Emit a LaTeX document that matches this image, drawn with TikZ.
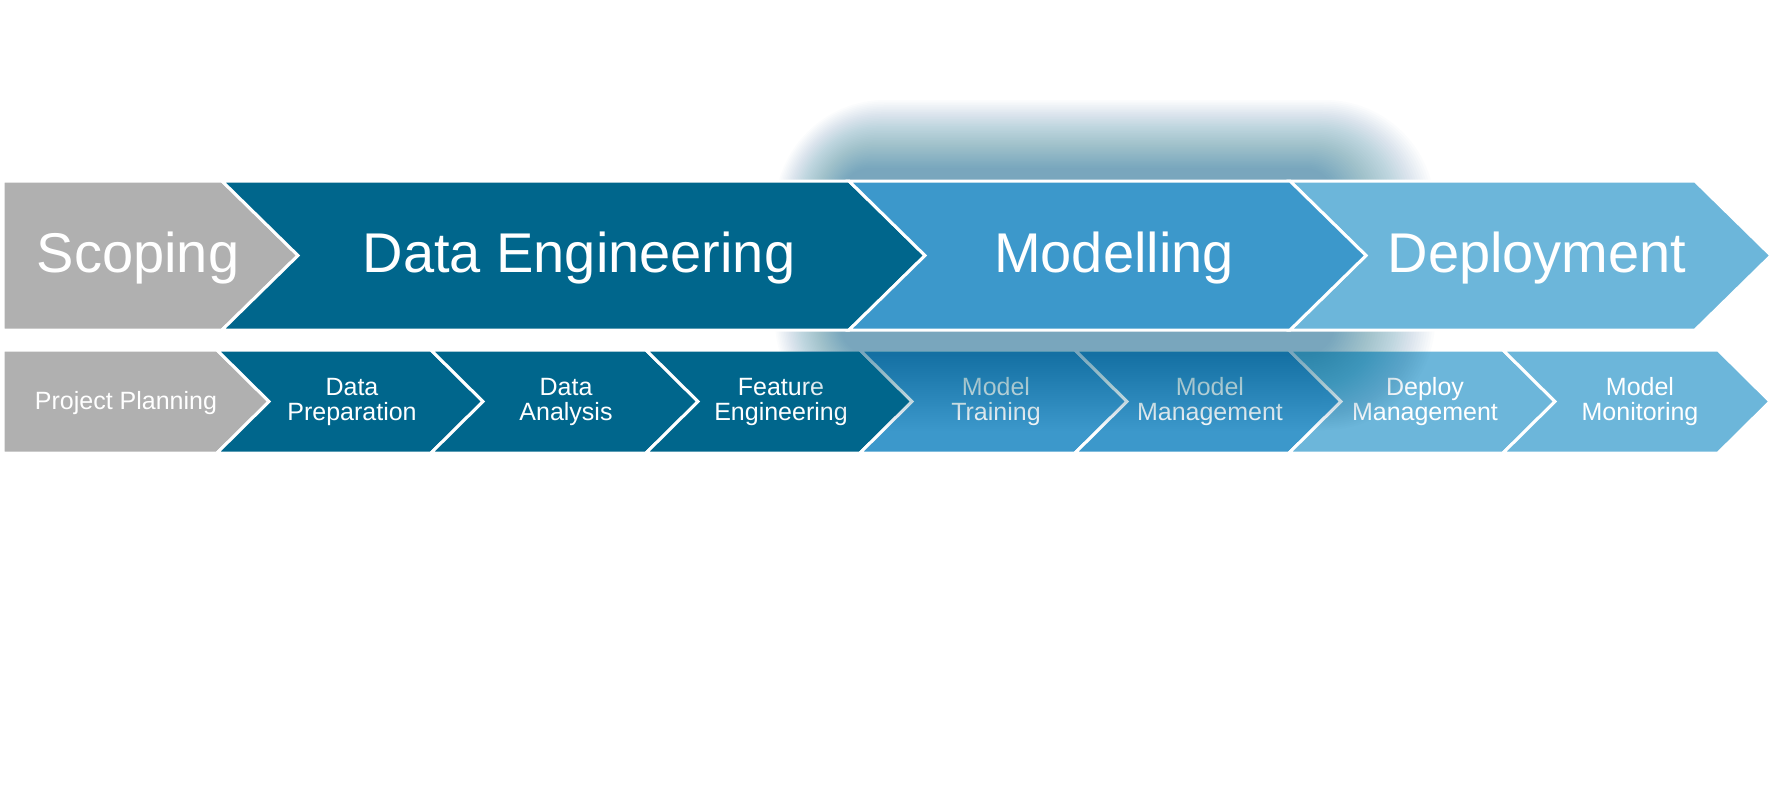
\documentclass[tikz,border=0pt]{standalone}
\usepackage{fontspec}
\setmainfont{Liberation Sans}

\definecolor{scopegrey}{RGB}{176,176,176}
\definecolor{engteal}{RGB}{0,102,140}
\definecolor{modelblue}{RGB}{60,152,203}
\definecolor{deployblue}{RGB}{108,182,218}

\tikzset{
  chev/.style={draw=white, line width=1.2pt},
  phase/.style={text=white, font=\fontsize{22.4}{22.4}\selectfont, anchor=base},
  task/.style={text=white, font=\fontsize{10}{10}\selectfont, align=center},
  glow/.style={fill=engteal, fill opacity=0.0172},
}

% style, left, base, top, bottom, tip depth, notch depth
\newcommand{\chevron}[7]{%
  \filldraw[#1] (#2,#4) -- (#3,#4) -- ({#3+#6},{(#4+#5)/2}) -- (#3,#5)
    -- (#2,#5) -- ({#2+#7},{(#4+#5)/2}) -- cycle;}

\begin{document}
\begin{tikzpicture}[x=0.4pt,y=-0.4pt]
  \useasboundingbox (0,0) rectangle (1775,803);
  \fill[white] (0,0) rectangle (1775,803);

  % lower row
  \chevron{chev,fill=scopegrey}{3}{217}{350}{453}{52}{0}
  \chevron{chev,fill=engteal}{217}{431}{350}{453}{52}{52}
  \chevron{chev,fill=engteal}{431}{646}{350}{453}{52}{52}
  \chevron{chev,fill=engteal}{646}{860}{350}{453}{52}{52}
  \chevron{chev,fill=modelblue}{860}{1075}{350}{453}{52}{52}
  \chevron{chev,fill=modelblue}{1075}{1289}{350}{453}{52}{52}
  \chevron{chev,fill=deployblue}{1289}{1503}{350}{453}{52}{52}
  \chevron{chev,fill=deployblue}{1503}{1718}{350}{453}{52}{52}

  \node[task, anchor=base] (planning) at (126,409) {Project Planning};
  \node[task] (preparation) at (352,402) {Data\\Preparation};
  \node[task] (analysis) at (566,402) {Data\\Analysis};
  \node[task] (feature) at (781,402) {Feature\\Engineering};
  \node[task] (training) at (996,402) {Model\\Training};
  \node[task] (management) at (1210,402) {Model\\Management};
  \node[task] (deploymgmt) at (1425,402) {Deploy\\Management};
  \node[task] (monitoring) at (1640,402) {Model\\Monitoring};

  % soft glow round the modelling phase
  \foreach \k in {0,...,39} {
    \pgfmathsetmacro{\t}{\k/39}
    \pgfmathsetmacro{\rad}{0.4*(110-80*\t)}
    \fill[glow, rounded corners=\rad pt]
      ({775+65*\t},{100+68*\t}) rectangle ({1435-100*\t},{430-75*\t});
  }

  % upper row
  \chevron{chev,fill=scopegrey}{3}{222}{181}{330}{76}{0}
  \chevron{chev,fill=engteal}{222}{849}{181}{330}{76}{76}
  \chevron{chev,fill=deployblue}{1290}{1695}{181}{330}{76}{76}
  \chevron{chev,fill=modelblue}{849}{1290}{181}{330}{76}{76}

  \node[phase] (scoping) at (138,272) {Scoping};
  \node[phase] (dataeng) at (579,272) {Data Engineering};
  \node[phase] (modelling) at (1114,272) {Modelling};
  \node[phase] (deployment) at (1537,272) {Deployment};
\end{tikzpicture}
\end{document}
